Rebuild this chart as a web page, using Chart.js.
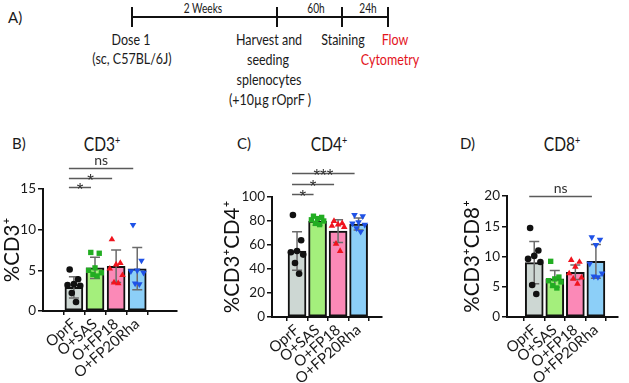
<!DOCTYPE html>
<html lang="en">
<head>
<meta charset="UTF-8">
<title>T cell subsets after rOprF restimulation</title>
<script src="https://cdn.jsdelivr.net/npm/chart.js"></script>
<style>
    body {
        margin: 0;
        width: 629px;
        height: 383px;
        position: relative;
        overflow: hidden;
        background: #fff;
        color: #1a1a1a;
        font-family: 'Lato', sans-serif;
    }
    /* text is squeezed a little to get close to the narrow face of the original */
    .t { position: absolute; white-space: nowrap; transform: translate(-50%, -50%) scaleX(0.78); font-size: 16px; line-height: 1; }
    .small { font-size: 13px; }
    .red { color: #e3141c; }
    .hline { position: absolute; left: 132px; top: 16px; width: 256px; height: 1.6px; background: #111; }
    .vt { position: absolute; top: 7px; width: 1.6px; height: 20px; background: #111; }
    .lbl { position: absolute; font-size: 15px; line-height: 1; transform: translateY(-50%); }
    .ttl { position: absolute; font-size: 19px; line-height: 1; transform: translate(-50%, -50%) scaleX(0.82); white-space: nowrap; }
    .ttl sup { font-size: 11px; vertical-align: 7px; }
    .panel { position: absolute; top: 150px; }
</style>
</head>
<body>
    <!-- A) timeline -->
    <div class="lbl" style="left:8px; top:17px;">A)</div>
    <div class="hline"></div>
    <div class="vt" style="left:131px;"></div>
    <div class="vt" style="left:276px;"></div>
    <div class="vt" style="left:341px;"></div>
    <div class="vt" style="left:387px;"></div>
    <div class="t small" style="left:203px; top:8px;">2 Weeks</div>
    <div class="t small" style="left:316px; top:8px;">60h</div>
    <div class="t small" style="left:368px; top:8px;">24h</div>
    <div class="t" style="left:131px; top:39px;">Dose 1</div>
    <div class="t" style="left:132px; top:58px;">(sc, C57BL/6J)</div>
    <div class="t" style="left:269px; top:39px;">Harvest and</div>
    <div class="t" style="left:268px; top:59px;">seeding</div>
    <div class="t" style="left:269px; top:79px;">splenocytes</div>
    <div class="t" style="left:270px; top:99px;">(+10µg rOprF )</div>
    <div class="t" style="left:343px; top:39px;">Staining</div>
    <div class="t red" style="left:395px; top:39px;">Flow</div>
    <div class="t red" style="left:390px; top:59px;">Cytometry</div>

    <!-- panel headings -->
    <div class="lbl" style="left:12px; top:143px;">B)</div>
    <div class="lbl" style="left:237px; top:143px;">C)</div>
    <div class="lbl" style="left:460px; top:143px;">D)</div>
    <div class="ttl" style="left:102px; top:143px;">CD3<sup>+</sup></div>
    <div class="ttl" style="left:329px; top:143px;">CD4<sup>+</sup></div>
    <div class="ttl" style="left:562px; top:143px;">CD8<sup>+</sup></div>

    <div class="panel" style="left:0px;"><canvas id="cd3" width="181" height="233"></canvas></div>
    <div class="panel" style="left:220px;"><canvas id="cd4" width="166" height="233"></canvas></div>
    <div class="panel" style="left:460px;"><canvas id="cd8" width="162" height="233"></canvas></div>

<script>
    // groups on the x axis
    const groups = ['OprF', 'O+SAS', 'O+FP18', 'O+FP20Rha'];

    // B) %CD3+
    const cd3Mean = [2.9, 5.3, 5.5, 5.2];
    const cd3Sd = [1.3, 1.3, 2.0, 2.6];
    const cd3Points = [
        [5.1, 3.9, 3.3, 3.2, 3.1, 2.2, 1.1],
        [7.2, 7.1, 5.3, 5.0, 4.7, 4.5, 4.3],
        [8.8, 5.9, 5.7, 5.2, 4.4, 3.5, 3.4],
        [10.6, 6.2, 5.0, 4.9, 4.7, 3.4, 3.3]
    ];
    const cd3Ticks = [0, 5, 10, 15];
    const cd3Sig = [
        { from: 0, to: 3, y: 17.6, text: 'ns' },
        { from: 0, to: 2, y: 16.4, text: '*' },
        { from: 0, to: 1, y: 15.2, text: '*' }
    ];

    // C) %CD3+CD4+
    const cd4Mean = [55, 80, 71.5, 77.5];
    const cd4Sd = [16, 3.5, 9.5, 5];
    const cd4Points = [
        [85, 64, 55, 54, 52, 45, 36],
        [84, 83, 82, 81, 80, 78, 77],
        [80, 78, 77, 76, 75, 61, 55],
        [85, 84, 79, 78, 77, 74, 71]
    ];
    const cd4Ticks = [0, 20, 40, 60, 80, 100];
    const cd4Sig = [
        { from: 0, to: 3, y: 120.3, text: '***' },
        { from: 0, to: 2, y: 110.6, text: '*' },
        { from: 0, to: 1, y: 102.2, text: '*' }
    ];

    // D) %CD3+CD8+
    const cd8Mean = [9.0, 6.3, 7.4, 9.2];
    const cd8Sd = [3.5, 1.4, 1.2, 2.8];
    const cd8Points = [
        [14.7, 11.0, 10.1, 9.6, 9.1, 5.3, 3.8],
        [9.2, 6.6, 6.3, 6.0, 5.8, 5.2, 4.8],
        [9.4, 9.1, 8.3, 7.2, 6.5, 6.3, 5.5],
        [13.2, 12.8, 11.9, 8.8, 7.2, 6.7, 6.6]
    ];
    const cd8Ticks = [0, 5, 10, 15, 20];
    const cd8Sig = [
        { from: 0, to: 3, y: 20, text: 'ns' }
    ];

    const fills = ['#cdd7d3', '#a4ef7c', '#fb89b7', '#8ccff8'];
    const dotColors = ['#111111', '#22ad22', '#f0141e', '#1f52e6'];
    const dotStyles = ['circle', 'rect', 'triangle', 'triangle'];
    const dotRotation = [0, 0, 0, 180];
    const spread = [-0.2, 0.2, 0, -0.3, 0.3, -0.1, 0.1];
    const FONT = "'Lato', sans-serif";

    // SD whiskers, drawn right after the bars so the dots sit on top
    const errorBars = {
        id: 'errorBars',
        afterDatasetDraw(chart, args) {
            const ds = chart.data.datasets[args.index];
            if (!ds.sd) return;
            const ctx = chart.ctx, x = chart.scales.x, y = chart.scales.y;
            ctx.save();
            ctx.strokeStyle = '#6b6b6b';
            ctx.lineWidth = 1.5;
            ds.data.forEach((p, i) => {
                const px = x.getPixelForValue(p.x);
                const top = y.getPixelForValue(p.y + ds.sd[i]);
                const bot = y.getPixelForValue(Math.max(0, p.y - ds.sd[i]));
                ctx.beginPath();
                ctx.moveTo(px, top); ctx.lineTo(px, bot);
                ctx.moveTo(px - 5, top); ctx.lineTo(px + 5, top);
                ctx.moveTo(px - 5, bot); ctx.lineTo(px + 5, bot);
                ctx.stroke();
            });
            ctx.restore();
        }
    };

    // significance lines above the bars
    const sigLines = {
        id: 'sigLines',
        afterDraw(chart) {
            const list = chart.options.plugins.sigLines.list || [];
            const ctx = chart.ctx, x = chart.scales.x, y = chart.scales.y;
            ctx.save();
            ctx.strokeStyle = '#5a5a5a';
            ctx.fillStyle = '#333';
            ctx.lineWidth = 1.5;
            ctx.textAlign = 'center';
            ctx.textBaseline = 'alphabetic';
            list.forEach(s => {
                const x1 = x.getPixelForValue(s.from) - 5;
                const x2 = x.getPixelForValue(s.to) - 4;
                const py = Math.round(y.getPixelForValue(s.y)) + 0.5;
                ctx.beginPath();
                ctx.moveTo(x1, py); ctx.lineTo(x2, py);
                ctx.stroke();
                const stars = s.text.indexOf('*') >= 0;
                ctx.font = stars ? "17px 'Liberation Sans', sans-serif" : '14px ' + FONT;
                ctx.fillText(s.text, (x1 + x2) / 2, stars ? py + 7 : py - 4);
            });
            ctx.restore();
        }
    };

    function drawPanel(id, means, sds, points, ticks, sig, title, xMin, xMax, padTop, yWidth, xHeight) {
        const dots = [];
        points.forEach((vals, g) => {
            vals.forEach((v, j) => dots.push({ x: g + spread[j % spread.length], y: v, g: g }));
        });
        new Chart(document.getElementById(id), {
            type: 'bar',
            data: {
                datasets: [{
                    type: 'bar',
                    data: means.map((m, i) => ({ x: i, y: m })),
                    sd: sds,
                    backgroundColor: fills,
                    borderColor: '#111',
                    borderWidth: 2,
                    borderSkipped: false,
                    barThickness: 18,
                    order: 1
                }, {
                    type: 'scatter',
                    data: dots,
                    pointStyle: c => dotStyles[c.raw.g],
                    rotation: c => dotRotation[c.raw.g],
                    backgroundColor: c => dotColors[c.raw.g],
                    borderWidth: 0,
                    pointRadius: c => c.raw.g === 0 ? 3.3 : 3.8,
                    order: 0
                }]
            },
            options: {
                responsive: false,
                animation: false,
                events: [],
                layout: { padding: { top: padTop, right: 3, left: 0, bottom: 0 } },
                plugins: {
                    legend: { display: false },
                    tooltip: { enabled: false },
                    sigLines: { list: sig }
                },
                scales: {
                    x: {
                        type: 'linear',
                        min: xMin,
                        max: xMax,
                        afterBuildTicks: s => { s.ticks = groups.map((g, i) => ({ value: i })); },
                        afterFit: s => { s.height = xHeight; },
                        ticks: {
                            callback: v => groups[v],
                            autoSkip: false,
                            minRotation: 41,
                            maxRotation: 41,
                            padding: 0,
                            color: '#1a1a1a',
                            font: { family: FONT, size: 15 }
                        },
                        grid: { drawOnChartArea: false, drawTicks: true, tickLength: 4, color: '#111', lineWidth: 1.5 },
                        border: { color: '#111', width: 2 }
                    },
                    y: {
                        min: ticks[0],
                        max: ticks[ticks.length - 1],
                        afterBuildTicks: s => { s.ticks = ticks.map(v => ({ value: v })); },
                        afterFit: s => { s.width = yWidth; },
                        ticks: { color: '#1a1a1a', padding: 2, font: { family: FONT, size: 13.5 } },
                        grid: { drawOnChartArea: false, drawTicks: true, tickLength: 5, color: '#111', lineWidth: 1.5 },
                        border: { color: '#111', width: 2 },
                        title: { display: true, text: title, color: '#111', padding: 0, font: { family: FONT, size: 20.5 } }
                    }
                }
            },
            plugins: [errorBars, sigLines]
        });
    }

    drawPanel('cd3', cd3Mean, cd3Sd, cd3Points, cd3Ticks, cd3Sig, '%CD3⁺', -0.67, 4.09, 39, 43, 72);
    drawPanel('cd4', cd4Mean, cd4Sd, cd4Points, cd4Ticks, cd4Sig, '%CD3⁺CD4⁺', -0.55, 3.47, 47, 52, 66);
    drawPanel('cd8', cd8Mean, cd8Sd, cd8Points, cd8Ticks, cd8Sig, '%CD3⁺CD8⁺', -0.65, 3.4, 46, 47, 66);
</script>
</body>
</html>
